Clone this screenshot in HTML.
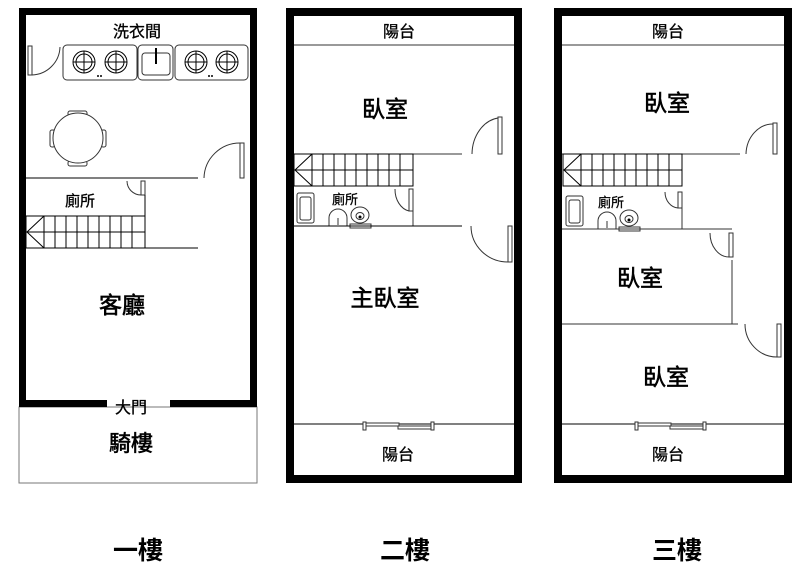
<!DOCTYPE html>
<html><head><meta charset="utf-8"><style>
html,body{margin:0;padding:0;background:#fff;width:800px;height:578px;overflow:hidden}
svg{display:block}
text{font-family:"Liberation Sans","Noto Sans CJK TC",sans-serif;fill:#000}
.b{stroke:#000;stroke-width:0.6}
.m{stroke:#000;stroke-width:0.3}
</style></head><body>
<svg width="800" height="578" viewBox="0 0 800 578" xmlns="http://www.w3.org/2000/svg">
<defs>
<g id="stairs">
 <rect x="0" y="0" width="119" height="32" fill="none" stroke="#000" stroke-width="1"/>
 <line x1="0" y1="16" x2="119" y2="16" stroke="#000"/>
 <g stroke="#000" stroke-width="1">
  <line x1="18" y1="0" x2="18" y2="32"/><line x1="29" y1="0" x2="29" y2="32"/><line x1="40" y1="0" x2="40" y2="32"/><line x1="51" y1="0" x2="51" y2="32"/><line x1="62" y1="0" x2="62" y2="32"/><line x1="73" y1="0" x2="73" y2="32"/><line x1="84" y1="0" x2="84" y2="32"/><line x1="95" y1="0" x2="95" y2="32"/><line x1="106" y1="0" x2="106" y2="32"/>
  <polyline points="18,0 1,16 18,32" fill="none"/>
 </g>
</g>
<g id="wc">
 <rect x="3" y="5" width="17" height="30" rx="2" fill="#fff" stroke="#333"/>
 <rect x="6" y="9" width="11" height="23" rx="2" fill="none" stroke="#333"/>
 <path d="M35 38 v-8 a9 9 0 0 1 18 0 v8 z" fill="#fff" stroke="#333"/>
 <line x1="44" y1="30" x2="44" y2="37" stroke="#333"/>
 <ellipse cx="66" cy="27" rx="9" ry="8" fill="#fff" stroke="#333"/>
 <ellipse cx="66" cy="28" rx="4" ry="3.5" fill="none" stroke="#333"/>
 <circle cx="66" cy="29" r="1.5" fill="#000"/>
 <rect x="56" y="36" width="21" height="4" fill="#fff" stroke="#333"/>
</g>
<g id="win">
 <rect x="1" y="-1" width="33" height="3" fill="#fff" stroke="#333"/>
 <rect x="33" y="2" width="33" height="3" fill="#fff" stroke="#333"/>
 <rect x="66" y="-2" width="3" height="8" fill="#fff" stroke="#333"/>
 <rect x="-2" y="-2" width="3" height="8" fill="#fff" stroke="#333"/>
</g>
</defs>

<!-- FLOOR 1 -->
<rect x="19" y="407" width="238" height="76" fill="none" stroke="#777" stroke-width="1"/>
<g fill="#000">
 <rect x="19" y="8" width="238" height="7"/>
 <rect x="19" y="8" width="7" height="399"/>
 <rect x="250" y="8" width="7" height="399"/>
 <rect x="19" y="400" width="88" height="7"/>
 <rect x="170" y="400" width="87" height="7"/>
</g>
<text x="137" y="37" font-size="16" text-anchor="middle" class="m">洗衣間</text>
<g stroke="#333" fill="#fff">
 <rect x="63" y="45" width="74" height="35" rx="4"/>
 <rect x="138" y="45" width="35" height="35" rx="4"/>
 <rect x="175" y="45" width="73" height="35" rx="4"/>
 <rect x="142" y="53" width="28" height="22" rx="3"/>
</g>
<line x1="156" y1="48" x2="156" y2="64" stroke="#000" stroke-width="2"/>
<g fill="none" stroke="#000">
 <circle cx="84" cy="62" r="11"/><circle cx="84" cy="62" r="8"/><line x1="73" y1="62" x2="95" y2="62"/><line x1="84" y1="51" x2="84" y2="73"/>
 <circle cx="116" cy="62" r="11"/><circle cx="116" cy="62" r="8"/><line x1="105" y1="62" x2="127" y2="62"/><line x1="116" y1="51" x2="116" y2="73"/>
 <circle cx="196" cy="62" r="11"/><circle cx="196" cy="62" r="8"/><line x1="185" y1="62" x2="207" y2="62"/><line x1="196" y1="51" x2="196" y2="73"/>
 <circle cx="227" cy="62" r="11"/><circle cx="227" cy="62" r="8"/><line x1="216" y1="62" x2="238" y2="62"/><line x1="227" y1="51" x2="227" y2="73"/>
</g>
<g fill="#000"><circle cx="98" cy="76" r="1"/><circle cx="101" cy="76" r="1"/><circle cx="209" cy="76" r="1"/><circle cx="212" cy="76" r="1"/></g>
<rect x="28" y="46" width="4" height="29" fill="#fff" stroke="#333"/>
<path d="M32 75 A29 29 0 0 0 60 47" fill="none" stroke="#333"/>
<g stroke="#333" fill="#fff">
 <rect x="68" y="111" width="19" height="5" rx="2"/>
 <rect x="68" y="161" width="19" height="5" rx="2"/>
 <rect x="50" y="130" width="5" height="17" rx="2"/>
 <rect x="101" y="130" width="5" height="17" rx="2"/>
 <circle cx="78" cy="138" r="25"/>
</g>
<line x1="26" y1="178" x2="198" y2="178" stroke="#000"/>
<rect x="240" y="143" width="4" height="35" fill="#fff" stroke="#333"/>
<path d="M204 178 A36 36 0 0 1 240 143" fill="none" stroke="#333"/>
<rect x="141" y="181" width="4" height="14" fill="#fff" stroke="#333"/>
<path d="M127 181 A14 14 0 0 0 141 195" fill="none" stroke="#333"/>
<line x1="145" y1="195" x2="145" y2="248" stroke="#000"/>
<text x="80" y="206" font-size="15" text-anchor="middle" class="m">廁所</text>
<use href="#stairs" x="26" y="216"/>
<line x1="145" y1="248" x2="198" y2="248" stroke="#000"/>
<text x="122" y="313" font-size="23" text-anchor="middle" class="b">客廳</text>
<text x="131" y="413" font-size="16" text-anchor="middle" class="m">大門</text>
<text x="131" y="451" font-size="22" text-anchor="middle" class="b">騎樓</text>

<!-- FLOOR 2 -->
<g fill="#000">
 <rect x="286" y="8" width="236" height="8"/>
 <rect x="286" y="8" width="8" height="475"/>
 <rect x="514" y="8" width="8" height="475"/>
 <rect x="286" y="475" width="236" height="8"/>
</g>
<text x="399" y="37" font-size="16" text-anchor="middle" class="m">陽台</text>
<line x1="294" y1="45" x2="514" y2="45" stroke="#333"/>
<text x="385" y="117" font-size="23" text-anchor="middle" class="b">臥室</text>
<line x1="294" y1="154" x2="462" y2="154" stroke="#333"/>
<rect x="498" y="117" width="4" height="37" fill="#fff" stroke="#333"/>
<path d="M472 154 A30 37 0 0 1 498 118" fill="none" stroke="#333"/>
<use href="#stairs" x="294" y="154"/>
<rect x="409" y="189" width="4" height="22" fill="#fff" stroke="#333"/>
<path d="M395 189 A17 22 0 0 0 409 211" fill="none" stroke="#333"/>
<line x1="413" y1="211" x2="413" y2="226" stroke="#333"/>
<text x="345" y="204" font-size="13" text-anchor="middle" class="m">廁所</text>
<use href="#wc" x="294" y="188"/>
<line x1="294" y1="226" x2="462" y2="226" stroke="#000"/>
<rect x="508" y="226" width="4" height="36" fill="#fff" stroke="#333"/>
<path d="M471 226 A37 36 0 0 0 508 262" fill="none" stroke="#333"/>
<text x="385" y="306" font-size="23" text-anchor="middle" class="b">主臥室</text>
<line x1="294" y1="424" x2="514" y2="424" stroke="#000"/>
<use href="#win" x="365" y="424"/>
<text x="398" y="460" font-size="16" text-anchor="middle" class="m">陽台</text>

<!-- FLOOR 3 -->
<g fill="#000">
 <rect x="554" y="8" width="238" height="8"/>
 <rect x="554" y="8" width="8" height="475"/>
 <rect x="784" y="8" width="8" height="475"/>
 <rect x="554" y="475" width="238" height="8"/>
</g>
<text x="668" y="37" font-size="16" text-anchor="middle" class="m">陽台</text>
<line x1="562" y1="45" x2="784" y2="45" stroke="#333"/>
<text x="667" y="111" font-size="23" text-anchor="middle" class="b">臥室</text>
<line x1="562" y1="154" x2="740" y2="154" stroke="#333"/>
<rect x="773" y="123" width="4" height="31" fill="#fff" stroke="#333"/>
<path d="M746 154 A27 31 0 0 1 773 124" fill="none" stroke="#333"/>
<use href="#stairs" x="563" y="154"/>
<rect x="678" y="192" width="4" height="16" fill="#fff" stroke="#333"/>
<path d="M665 192 A14 16 0 0 0 678 208" fill="none" stroke="#333"/>
<line x1="682" y1="208" x2="682" y2="229" stroke="#333"/>
<text x="611" y="207" font-size="13" text-anchor="middle" class="m">廁所</text>
<use href="#wc" x="563" y="191"/>
<line x1="562" y1="229" x2="732" y2="229" stroke="#333"/>
<rect x="729" y="233" width="4" height="24" fill="#fff" stroke="#333"/>
<path d="M710 233 A19 24 0 0 0 729 257" fill="none" stroke="#333"/>
<line x1="732" y1="260" x2="732" y2="324" stroke="#333"/>
<text x="640" y="286" font-size="23" text-anchor="middle" class="b">臥室</text>
<line x1="562" y1="324" x2="738" y2="324" stroke="#333"/>
<rect x="777" y="324" width="4" height="33" fill="#fff" stroke="#333"/>
<path d="M745 324 A32 33 0 0 0 777 357" fill="none" stroke="#333"/>
<text x="666" y="385" font-size="23" text-anchor="middle" class="b">臥室</text>
<line x1="562" y1="424" x2="784" y2="424" stroke="#000"/>
<use href="#win" x="637" y="424"/>
<text x="668" y="460" font-size="16" text-anchor="middle" class="m">陽台</text>

<text x="138" y="559" font-size="25" font-weight="bold" text-anchor="middle">一樓</text>
<text x="405" y="559" font-size="25" font-weight="bold" text-anchor="middle">二樓</text>
<text x="677" y="559" font-size="25" font-weight="bold" text-anchor="middle">三樓</text>
</svg>
</body></html>
